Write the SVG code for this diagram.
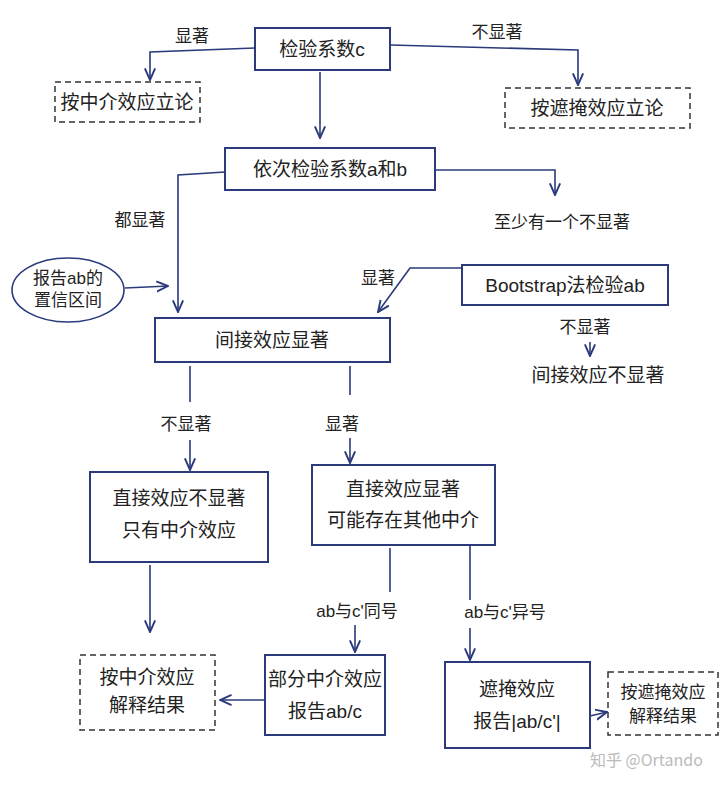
<svg xmlns="http://www.w3.org/2000/svg" width="727" height="789" viewBox="0 0 727 789">
<defs>
<style>
.b{fill:none;stroke:#2a3a7a;stroke-width:2}
.d{fill:none;stroke:#333;stroke-width:1.5;stroke-dasharray:6 4}
.c{fill:none;stroke:#2a3a7a;stroke-width:1.6}
.t{font-family:"Liberation Sans","Noto Sans CJK SC",sans-serif;font-size:19px;fill:#222;text-anchor:middle}
.s{font-family:"Liberation Sans","Noto Sans CJK SC",sans-serif;font-size:17px;fill:#222;text-anchor:middle}
</style>
<marker id="a" viewBox="0 0 10 10" refX="9" refY="5" markerWidth="8" markerHeight="8" orient="auto"><path d="M0,1 L9,5 L0,9" fill="none" stroke="#2a3a7a" stroke-width="1.5"/></marker>
</defs>
<rect width="727" height="789" fill="#fff"/>
<g id="connectors">
<path class="c" d="M255,48 L150,52 L150,80" marker-end="url(#a)"/>
<path class="c" d="M390,45 L578,50 L578,85" marker-end="url(#a)"/>
<path class="c" d="M320,72 L320,138" marker-end="url(#a)"/>
<path class="c" d="M225,172 L178,175 L178,312" marker-end="url(#a)"/>
<path class="c" d="M435,170 L555,170 L555,195" marker-end="url(#a)"/>
<path class="c" d="M125,288 L168,286" marker-end="url(#a)"/>
<path class="c" d="M462,268 L410,268 L378,312" marker-end="url(#a)"/>
<path class="c" d="M590,342 L590,356" marker-end="url(#a)"/>
<path class="c" d="M190,366 L190,402"/>
<path class="c" d="M350,366 L350,395"/>
<path class="c" d="M190,440 L190,470" marker-end="url(#a)"/>
<path class="c" d="M350,438 L350,463" marker-end="url(#a)"/>
<path class="c" d="M150,565 L150,632" marker-end="url(#a)"/>
<path class="c" d="M390,548 L390,592"/>
<path class="c" d="M355,625 L355,652" marker-end="url(#a)"/>
<path class="c" d="M470,545 L470,600"/>
<path class="c" d="M470,628 L470,660" marker-end="url(#a)"/>
<path class="c" d="M265,700 L220,700" marker-end="url(#a)"/>
<path class="c" d="M590,716 L607,712" marker-end="url(#a)"/>
</g>
<g id="labels">
<text class="s" x="192" y="42">显著</text>
<text class="s" x="497" y="38">不显著</text>
<text class="s" x="140" y="226">都显著</text>
<text class="s" x="562" y="228">至少有一个不显著</text>
<text class="s" x="378" y="284">显著</text>
<text class="s" x="585" y="333">不显著</text>
<text class="s" x="186" y="430">不显著</text>
<text class="s" x="342" y="430">显著</text>
<text class="s" x="357" y="617">ab与c'同号</text>
<text class="s" x="505" y="618">ab与c'异号</text>
</g>
<g id="n1"><rect class="b" x="255" y="28" width="135" height="42"/><text class="t" x="322" y="56">检验系数c</text></g>
<g id="n2"><rect class="d" x="55" y="82" width="145" height="40"/><text class="t" x="127" y="109">按中介效应立论</text></g>
<g id="n3"><rect class="d" x="505" y="88" width="185" height="40"/><text class="t" x="597" y="115">按遮掩效应立论</text></g>
<g id="n4"><rect class="b" x="225" y="148" width="210" height="42"/><text class="t" x="330" y="176">依次检验系数a和b</text></g>
<g id="n5"><ellipse class="c" cx="68" cy="290" rx="56" ry="32"/><text class="s" x="68" y="284">报告ab的</text><text class="s" x="68" y="306">置信区间</text></g>
<g id="n6"><rect class="b" x="462" y="265" width="206" height="40"/><text class="t" x="565" y="292">Bootstrap法检验ab</text></g>
<g id="n7"><rect class="b" x="155" y="318" width="235" height="44"/><text class="t" x="272" y="347">间接效应显著</text></g>
<g id="n8"><text class="t" x="598" y="382">间接效应不显著</text></g>
<g id="n9"><rect class="b" x="90" y="472" width="178" height="90"/><text class="t" x="179" y="505">直接效应不显著</text><text class="t" x="179" y="537">只有中介效应</text></g>
<g id="n10"><rect class="b" x="312" y="465" width="183" height="80"/><text class="t" x="403" y="496">直接效应显著</text><text class="t" x="403" y="527">可能存在其他中介</text></g>
<g id="n11"><rect class="d" x="80" y="655" width="135" height="75"/><text class="t" x="147" y="684">按中介效应</text><text class="t" x="147" y="712">解释结果</text></g>
<g id="n12"><rect class="b" x="265" y="655" width="120" height="80"/><text class="t" x="325" y="686">部分中介效应</text><text class="t" x="325" y="718">报告ab/c</text></g>
<g id="n13"><rect class="b" x="445" y="662" width="145" height="86"/><text class="t" x="517" y="696">遮掩效应</text><text class="t" x="517" y="728">报告|ab/c'|</text></g>
<g id="n14"><rect class="d" x="608" y="672" width="110" height="63"/><text class="s" x="663" y="698">按遮掩效应</text><text class="s" x="663" y="722">解释结果</text></g>
<text x="590" y="766" font-family="'Noto Sans CJK SC',sans-serif" font-size="16" fill="#bbb">知乎 @Ortando</text>
</svg>
